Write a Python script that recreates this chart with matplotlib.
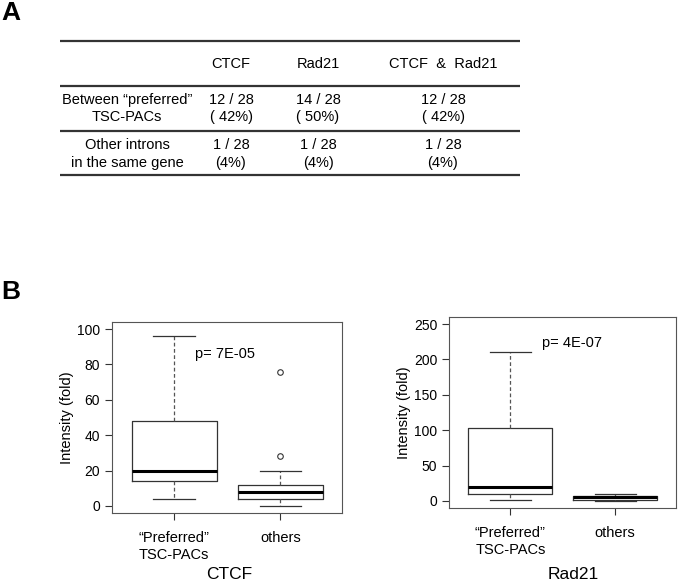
import matplotlib
matplotlib.use("Agg")
import matplotlib.pyplot as plt

plt.rcParams["font.family"] = ["Liberation Sans", "DejaVu Sans"]

# panel A table
col_names = ["CTCF", "Rad21", "CTCF  &  Rad21"]
row_names = ["Between \u201cpreferred\u201d\nTSC-PACs", "Other introns\nin the same gene"]
hits = [[12, 14, 12], [1, 1, 1]]
total = 28
pcts = [["( 42%)", "( 50%)", "( 42%)"], ["(4%)", "(4%)", "(4%)"]]

# panel B box plot summaries (low whisker, q1, median, q3, high whisker)
groups = ["\u201cPreferred\u201d\nTSC-PACs", "others"]
ctcf_stats = [[4, 14, 20, 48, 96], [0, 4, 8, 12, 20]]
ctcf_fliers = [[], [28, 76]]
rad21_stats = [[2, 10, 19, 103, 210], [0, 2, 5, 7, 10]]
rad21_fliers = [[], []]
pvals = ["p= 7E-05", "p= 4E-07"]
titles = ["CTCF", "Rad21"]

fig = plt.figure(figsize=(6.79, 5.84), dpi=100)

# overlay in pixel coords for table and panel letters
top = fig.add_axes([0, 0, 1, 1])
top.set_xlim(0, 679)
top.set_ylim(584, 0)
top.axis("off")

top.text(1, 13, "A", fontsize=19, fontweight="bold", va="center", ha="left")
top.text(1, 292, "B", fontsize=19, fontweight="bold", va="center", ha="left")

for y in [41, 86, 131, 175]:
    top.plot([60, 520], [y, y], color="#333333", lw=1.6, solid_capstyle="butt")

col_x = [231, 318, 443]
for x, name in zip(col_x, col_names):
    top.text(x, 64, name, fontsize=10.5, ha="center", va="center")

row_y = [108.5, 154]
for r, (label, y) in enumerate(zip(row_names, row_y)):
    top.text(127, y, label, fontsize=10.5, ha="center", va="center", linespacing=1.3)
    for c, x in enumerate(col_x):
        cell = f"{hits[r][c]} / {total}\n{pcts[r][c]}"
        top.text(x, y, cell, fontsize=10.5, ha="center", va="center", linespacing=1.3)


def draw_box(ax, stats, fliers):
    bx = []
    for s, f in zip(stats, fliers):
        bx.append(dict(whislo=s[0], q1=s[1], med=s[2], q3=s[3], whishi=s[4], fliers=f))
    ax.bxp(bx, positions=[1, 2], widths=0.8, showfliers=True,
           boxprops=dict(color="#333333", lw=0.9),
           medianprops=dict(color="black", lw=2.2),
           whiskerprops=dict(color="#555555", lw=0.9, ls=(0, (3, 2))),
           capprops=dict(color="#333333", lw=0.9),
           flierprops=dict(marker="o", markersize=4, markerfacecolor="white",
                           markeredgecolor="#333333", markeredgewidth=0.8),
           capwidths=0.39)


axes_pos = [[112 / 679, 71 / 584, 230 / 679, 191 / 584],
            [449 / 679, 76 / 584, 227 / 679, 191 / 584]]
all_stats = [ctcf_stats, rad21_stats]
all_fliers = [ctcf_fliers, rad21_fliers]
ylims = [(-4, 104), (-10, 260)]
yticks = [range(0, 101, 20), range(0, 251, 50)]
ptext_y = [86, 223]
ptext_x = [1.2, 1.3]
title_xy = [(0.509, -0.285), (0.546, -0.31)]

for i in range(2):
    ax = fig.add_axes(axes_pos[i])
    draw_box(ax, all_stats[i], all_fliers[i])
    ax.set_xlim(0.415, 2.58)
    ax.set_ylim(*ylims[i])
    ax.set_yticks(list(yticks[i]))
    ax.set_xticks([1, 2])
    ax.set_xticklabels(groups, fontsize=10.5, linespacing=1.25)
    ax.tick_params(axis="y", labelsize=10, direction="out", length=5, width=0.8, colors="#333333",
                   labelcolor="black")
    ax.tick_params(axis="x", direction="out", length=5, width=0.8, pad=8, colors="#333333",
                   labelcolor="black")
    for sp in ax.spines.values():
        sp.set_linewidth(0.8)
        sp.set_color("#555555")
    ax.set_ylabel("Intensity (fold)", fontsize=10.5, labelpad=2)
    ax.set_xlabel(titles[i], fontsize=12.5)
    ax.xaxis.set_label_coords(*title_xy[i])
    ax.text(ptext_x[i], ptext_y[i], pvals[i], fontsize=10.5, ha="left", va="center")

fig.savefig("out.png", dpi=100)
